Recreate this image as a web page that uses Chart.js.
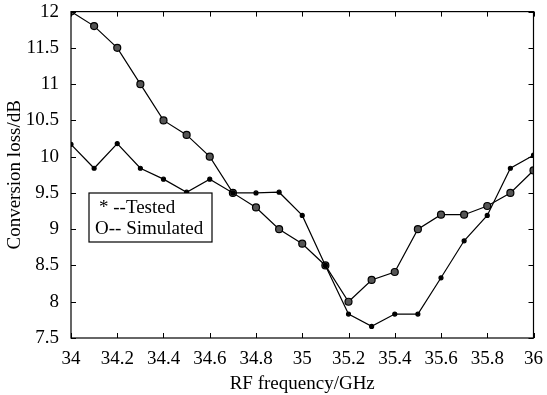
<!DOCTYPE html>
<html>
<head>
<meta charset="utf-8">
<script src="https://cdn.jsdelivr.net/npm/chart.js@4/dist/chart.umd.min.js"></script>
<style>
  html, body { margin: 0; padding: 0; background: #fff; }
  #wrap { width: 547px; height: 395px; }
</style>
</head>
<body>
<div id="wrap"><canvas id="myChart" width="547" height="395"></canvas></div>
<script>
var freqs = [34, 34.1, 34.2, 34.3, 34.4, 34.5, 34.6, 34.7, 34.8, 34.9, 35, 35.1, 35.2, 35.3, 35.4, 35.5, 35.6, 35.7, 35.8, 35.9, 36];
var tested = [10.17, 9.84, 10.18, 9.84, 9.69, 9.51, 9.69, 9.5, 9.5, 9.51, 9.19, 8.5, 7.83, 7.66, 7.83, 7.83, 8.33, 8.84, 9.19, 9.84, 10.02];
var simulated = [12, 11.8, 11.5, 11.0, 10.5, 10.3, 10.0, 9.5, 9.3, 9.0, 8.8, 8.5, 8.0, 8.3, 8.41, 9.0, 9.2, 9.2, 9.32, 9.5, 9.81];
var xTicks = [34, 34.2, 34.4, 34.6, 34.8, 35, 35.2, 35.4, 35.6, 35.8, 36];
var yTicks = [7.5, 8, 8.5, 9, 9.5, 10, 10.5, 11, 11.5, 12];

var fontFam = "'Liberation Serif', 'Times New Roman', serif";

function pts(ys){
	return freqs.map(function(x, i){ return {x: x, y: ys[i]}; });
}

// frame, inward ticks on all sides, and the boxed legend
var framePlugin = {
	id: 'frame',
	afterDraw: function(chart){
		var c = chart.ctx, a = chart.chartArea;
		var xs = chart.scales.x, ys = chart.scales.y;
		c.save();
		c.strokeStyle = '#000';
		c.lineWidth = 1.2;
		c.strokeRect(a.left, a.top, a.right - a.left, a.bottom - a.top);
		c.lineWidth = 1;
		xTicks.forEach(function(v){
			var px = Math.round(xs.getPixelForValue(v)) + 0.5;
			c.beginPath();
			c.moveTo(px, a.bottom); c.lineTo(px, a.bottom - 5);
			c.moveTo(px, a.top); c.lineTo(px, a.top + 5);
			c.stroke();
		});
		yTicks.forEach(function(v){
			var py = Math.round(ys.getPixelForValue(v)) + 0.5;
			c.beginPath();
			c.moveTo(a.left, py); c.lineTo(a.left + 5, py);
			c.moveTo(a.right, py); c.lineTo(a.right - 5, py);
			c.stroke();
		});

		// legend
		var lx = 89, ly = 193, lw = 123, lh = 49;
		c.fillStyle = '#fff';
		c.fillRect(lx, ly, lw, lh);
		c.lineWidth = 1.2;
		c.strokeRect(lx, ly, lw, lh);
		c.fillStyle = '#000';
		c.font = '19px ' + fontFam;
		c.textBaseline = 'middle';
		c.textAlign = 'left';
		c.fillText('* --' + chart.data.datasets[0].label, lx + 10, ly + 15);
		c.fillText('O-- ' + chart.data.datasets[1].label, lx + 6, ly + 36);
		c.restore();
	}
};

var ctx = document.getElementById('myChart');
var myChart = new Chart(ctx, {
	type: 'line',
	data: {
		datasets: [{
			label: 'Tested',
			data: pts(tested),
			borderColor: '#000',
			borderWidth: 1.2,
			backgroundColor: '#000',
			pointRadius: 2,
			pointBackgroundColor: '#000',
			pointBorderColor: '#000',
			tension: 0
		}, {
			label: 'Simulated',
			data: pts(simulated),
			borderColor: '#000',
			borderWidth: 1.2,
			pointRadius: 3.5,
			pointBorderWidth: 1.2,
			pointBackgroundColor: '#555',
			pointBorderColor: '#000',
			tension: 0
		}]
	},
	options: {
		responsive: false,
		animation: false,
		events: [],
		layout: { padding: { top: 11, right: 10, left: 0, bottom: 0 } },
		plugins: {
			legend: { display: false },
			tooltip: { enabled: false }
		},
		scales: {
			x: {
				type: 'linear',
				min: 34,
				max: 36,
				afterBuildTicks: function(s){ s.ticks = xTicks.map(function(v){ return {value: v}; }); },
				afterFit: function(s){ s.height = 57; },
				grid: { display: false },
				border: { display: false },
				ticks: {
					color: '#000',
					font: { family: fontFam, size: 19, lineHeight: 1 },
					padding: 4,
					maxRotation: 0,
					callback: function(v){ return String(v); }
				},
				title: {
					display: true,
					text: 'RF frequency/GHz',
					color: '#000',
					font: { family: fontFam, size: 19, lineHeight: 1 },
					padding: { top: 0, bottom: 1 }
				}
			},
			y: {
				min: 7.5,
				max: 12,
				afterBuildTicks: function(s){ s.ticks = yTicks.map(function(v){ return {value: v}; }); },
				afterFit: function(s){ s.width = 71; },
				grid: { display: false },
				border: { display: false },
				ticks: {
					color: '#000',
					font: { family: fontFam, size: 19, lineHeight: 0.8 },
					padding: 4,
					callback: function(v){ return String(v); }
				},
				title: {
					display: true,
					text: 'Conversion loss/dB',
					color: '#000',
					font: { family: fontFam, size: 19, lineHeight: 1 },
					padding: { top: 6, bottom: 2 }
				}
			}
		}
	},
	plugins: [framePlugin]
});
</script>
</body>
</html>
